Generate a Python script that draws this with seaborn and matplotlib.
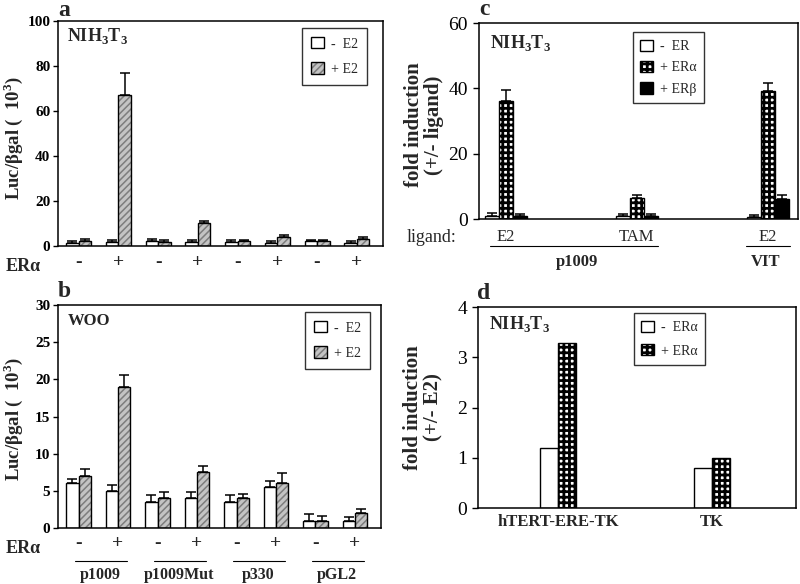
import numpy as np
import pandas as pd
import matplotlib
matplotlib.use("Agg")
import matplotlib.pyplot as plt
import seaborn as sns
from matplotlib.patches import Patch
from matplotlib.colors import to_rgba
import matplotlib.transforms as mtransforms

sns.set_theme(style="white")
plt.rcParams['font.family'] = ['Liberation Serif', 'DejaVu Serif']
plt.rcParams['mathtext.fontset'] = 'custom'
plt.rcParams['mathtext.rm'] = 'Liberation Serif'
plt.rcParams['mathtext.bf'] = 'Liberation Serif:bold'
plt.rcParams['hatch.linewidth'] = 1.1

# ---------------- data ----------------
# panel a (NIH3T3)
a_groups = ["g1", "g2", "g3", "g4", "g5", "g6", "g7", "g8"]
a_tick_labels = ["-", "+", "-", "+", "-", "+", "-", "+"]
a_minus = [1.3, 1.6, 2.1, 1.6, 1.9, 1.5, 2.0, 1.5]
a_minus_err = [1.0, 0.9, 0.8, 0.9, 0.8, 0.9, 0.8, 0.8]
a_plus = [2.0, 67.2, 1.8, 10.3, 2.0, 3.9, 2.0, 3.0]
a_plus_err = [0.9, 9.8, 0.8, 0.9, 0.8, 0.8, 0.6, 0.9]

# panel b (WOO)
b_groups = ["g1", "g2", "g3", "g4", "g5", "g6", "g7", "g8"]
b_tick_labels = ["-", "+", "-", "+", "-", "+", "-", "+"]
b_constructs = ["p1009", "p1009Mut", "p330", "pGL2"]
b_minus = [6.0, 5.0, 3.5, 4.0, 3.5, 5.5, 1.0, 1.0]
b_minus_err = [0.6, 0.8, 1.0, 0.8, 1.0, 0.8, 0.9, 0.5]
b_plus = [7.0, 19.0, 4.0, 7.5, 4.0, 6.0, 1.0, 2.0]
b_plus_err = [1.0, 1.6, 0.8, 0.9, 0.6, 1.4, 0.6, 0.5]

e2_levels = ["-  E2", "+ E2"]

# panel c
c_groups = ["p1009 E2", "p1009 TAM", "VIT E2"]
c_tick_labels = ["E2", "TAM", "E2"]
c_levels = ["-  ER", "+ ERα", "+ ERβ"]
c_none = [1.0, 1.0, 0.6]
c_none_err = [0.8, 0.5, 0.7]
c_alpha = [36.2, 6.4, 39.2]
c_alpha_err = [3.2, 0.8, 2.3]
c_beta = [1.0, 1.0, 6.1]
c_beta_err = [0.6, 0.6, 1.3]

# panel d
d_groups = ["hTERT-ERE-TK", "TK"]
d_levels = ["-  ERα", "+ ERα"]
d_minus = [1.2, 0.8]
d_plus = [3.28, 1.0]

HATCH_FACE = "#c4c4c4"
HATCH_LINE = "#7d7d7d"
DIAG = "/////"
CHECK = "+++"
CHECK_LW = 2.0


def set_hatch_style(p, color, lw=None):
    if hasattr(p, "set_hatchcolor"):
        p.set_hatchcolor(color)
    else:
        p._hatch_color = to_rgba(color)
    if lw is not None:
        if hasattr(p, "set_hatch_linewidth"):
            p.set_hatch_linewidth(lw)
        else:
            p._hatch_linewidth = lw


def long_df(groups, levels, series):
    rows = []
    for lev, vals in zip(levels, series):
        for g, v in zip(groups, vals):
            rows.append({"group": g, "cond": lev, "value": v})
    return pd.DataFrame(rows)


def add_errs(ax, container, errs):
    xs = [p.get_x() + p.get_width() / 2 for p in container.patches]
    ys = [p.get_height() for p in container.patches]
    ax.errorbar(xs, ys, yerr=[np.zeros(len(errs)), errs], fmt="none",
                ecolor="black", elinewidth=1.1, capsize=3.5, capthick=1.1, zorder=3)


def style_axes(ax, bold_ticks, tick_size):
    for s in ax.spines.values():
        s.set_visible(True)
        s.set_color("black")
        s.set_linewidth(1.1)
    ax.tick_params(axis="y", left=True, direction="out", length=3.5, width=1,
                   pad=2, labelsize=tick_size, colors="black")
    ax.tick_params(axis="x", bottom=False, length=0)
    for t in ax.get_yticklabels():
        t.set_fontweight("bold" if bold_ticks else "normal")
    ax.set_xlabel("")
    ax.grid(False)


def make_legend(ax, handles, labels, anchor, spacing, pad):
    leg = ax.legend(handles, labels, loc="upper right", bbox_to_anchor=anchor,
                    frameon=True, fancybox=False, edgecolor="black", fontsize=10,
                    handlelength=0.9, handleheight=0.9, handletextpad=0.5,
                    labelspacing=spacing, borderpad=pad, borderaxespad=0)
    leg.get_frame().set_linewidth(1)
    return leg


fig = plt.figure(figsize=(8, 5.84), dpi=100)

# ---------------- panel a ----------------
ax_a = fig.add_axes([0.0725, 0.5788, 0.40625, 0.3853])
dfa = long_df(a_groups, e2_levels, [a_minus, a_plus])
sns.barplot(data=dfa, x="group", y="value", hue="cond", order=a_groups,
            hue_order=e2_levels, palette=["white", HATCH_FACE], saturation=1,
            edgecolor="black", linewidth=1, width=0.63, errorbar=None,
            legend=False, ax=ax_a)
for p in ax_a.containers[1].patches:
    p.set_hatch(DIAG)
    set_hatch_style(p, HATCH_LINE)
add_errs(ax_a, ax_a.containers[0], a_minus_err)
add_errs(ax_a, ax_a.containers[1], a_plus_err)
ax_a.set_ylim(0, 100)
ax_a.set_yticks([0, 20, 40, 60, 80, 100])
ax_a.set_xlim(-0.52, 7.66)
ax_a.set_xticks(range(len(a_groups)))
ax_a.set_xticklabels(a_tick_labels, fontsize=14, fontweight="bold")
ax_a.tick_params(axis="x", pad=6)
style_axes(ax_a, True, 11)
ax_a.set_ylabel(r"Luc/βgal (  10$^\mathbf{3}$)", fontsize=13.5, fontweight="bold")
ax_a.yaxis.set_label_coords(-0.103, 0.48)
ax_a.text(-0.108, -0.093, "ERα", transform=ax_a.transAxes, ha="center",
          va="center", fontsize=13, fontweight="bold")
ax_a.text(0.028, 0.935, r"NIH$_\mathbf{3}$T$_\mathbf{3}$", transform=ax_a.transAxes,
          ha="left", va="center", fontsize=13, fontweight="bold")
h_e2 = [Patch(facecolor="white", edgecolor="black", linewidth=1),
        Patch(facecolor=HATCH_FACE, edgecolor="black", linewidth=1, hatch=DIAG)]
leg = make_legend(ax_a, h_e2, e2_levels, (0.951, 0.969), 0.85, 0.65)
set_hatch_style(leg.legend_handles[1], HATCH_LINE)

# ---------------- panel b ----------------
ax_b = fig.add_axes([0.0725, 0.0959, 0.4038, 0.3818])
dfb = long_df(b_groups, e2_levels, [b_minus, b_plus])
sns.barplot(data=dfb, x="group", y="value", hue="cond", order=b_groups,
            hue_order=e2_levels, palette=["white", HATCH_FACE], saturation=1,
            edgecolor="black", linewidth=1, width=0.62, errorbar=None,
            legend=False, ax=ax_b)
for p in ax_b.containers[1].patches:
    p.set_hatch(DIAG)
    set_hatch_style(p, HATCH_LINE)
add_errs(ax_b, ax_b.containers[0], b_minus_err)
add_errs(ax_b, ax_b.containers[1], b_plus_err)
ax_b.set_ylim(0, 30)
ax_b.set_yticks([0, 5, 10, 15, 20, 25, 30])
ax_b.set_xlim(-0.52, 7.66)
ax_b.set_xticks(range(len(b_groups)))
ax_b.set_xticklabels(b_tick_labels, fontsize=14, fontweight="bold")
ax_b.tick_params(axis="x", pad=5)
style_axes(ax_b, True, 11)
ax_b.set_ylabel(r"Luc/βgal (  10$^\mathbf{3}$)", fontsize=13.5, fontweight="bold")
ax_b.yaxis.set_label_coords(-0.103, 0.49)
ax_b.text(-0.108, -0.092, "ERα", transform=ax_b.transAxes, ha="center",
          va="center", fontsize=13, fontweight="bold")
ax_b.text(0.03, 0.93, "WOO", transform=ax_b.transAxes,
          ha="left", va="center", fontsize=12, fontweight="bold")
trb = mtransforms.blended_transform_factory(ax_b.transData, ax_b.transAxes)
for k, name in enumerate(b_constructs):
    x0 = 2 * k
    ax_b.plot([x0 - 0.1, x0 + 1.22], [-0.148, -0.148], color="black", lw=0.8,
              transform=trb, clip_on=False)
    ax_b.text(x0 + 0.55, -0.212, name, transform=trb, ha="center", va="center",
              fontsize=11.5, fontweight="bold")
leg = make_legend(ax_b, h_e2, e2_levels, (0.966, 0.969), 0.85, 0.65)
set_hatch_style(leg.legend_handles[1], HATCH_LINE)

# ---------------- panel c ----------------
ax_c = fig.add_axes([0.59875, 0.625, 0.39875, 0.3356])
dfc = long_df(c_groups, c_levels, [c_none, c_alpha, c_beta])
sns.barplot(data=dfc, x="group", y="value", hue="cond", order=c_groups,
            hue_order=c_levels, palette=["white", "white", "black"], saturation=1,
            edgecolor="black", linewidth=1, width=0.32, errorbar=None,
            legend=False, ax=ax_c)
for p in ax_c.containers[1].patches:
    p.set_hatch(CHECK)
    set_hatch_style(p, "black", CHECK_LW)
add_errs(ax_c, ax_c.containers[0], c_none_err)
add_errs(ax_c, ax_c.containers[1], c_alpha_err)
add_errs(ax_c, ax_c.containers[2], c_beta_err)
ax_c.set_ylim(0, 60)
ax_c.set_yticks([0, 20, 40, 60])
ax_c.set_xlim(-0.206, 2.23)
ax_c.set_xticks(range(len(c_groups)))
ax_c.set_xticklabels(c_tick_labels, fontsize=12)
ax_c.tick_params(axis="x", pad=7)
style_axes(ax_c, False, 14)
ax_c.tick_params(axis="y", pad=4, length=4)
ax_c.set_ylabel("fold induction\n(+/- ligand)", fontsize=15, fontweight="bold",
                linespacing=1.0)
ax_c.yaxis.set_label_coords(-0.11, 0.48)
ax_c.text(-0.148, -0.092, "ligand:", transform=ax_c.transAxes, ha="center",
          va="center", fontsize=13)
ax_c.text(0.035, 0.9, r"NIH$_\mathbf{3}$T$_\mathbf{3}$", transform=ax_c.transAxes,
          ha="left", va="center", fontsize=13, fontweight="bold")
trc = mtransforms.blended_transform_factory(ax_c.transData, ax_c.transAxes)
ax_c.plot([-0.12, 1.16], [-0.138, -0.138], color="black", lw=0.8,
          transform=trc, clip_on=False)
ax_c.plot([1.83, 2.17], [-0.138, -0.138], color="black", lw=0.8,
          transform=trc, clip_on=False)
ax_c.text(0.54, -0.219, "p1009", transform=trc, ha="center", va="center",
          fontsize=12, fontweight="bold")
ax_c.text(1.98, -0.219, "VIT", transform=trc, ha="center", va="center",
          fontsize=12, fontweight="bold")
h_c = [Patch(facecolor="white", edgecolor="black", linewidth=1),
       Patch(facecolor="white", edgecolor="black", linewidth=1, hatch=CHECK),
       Patch(facecolor="black", edgecolor="black", linewidth=1)]
leg = make_legend(ax_c, h_c, c_levels, (0.705, 0.954), 0.55, 0.55)
set_hatch_style(leg.legend_handles[1], "black", CHECK_LW)

# ---------------- panel d ----------------
ax_d = fig.add_axes([0.5975, 0.1301, 0.3975, 0.3442])
dfd = long_df(d_groups, d_levels, [d_minus, d_plus])
sns.barplot(data=dfd, x="group", y="value", hue="cond", order=d_groups,
            hue_order=d_levels, palette=["white", "white"], saturation=1,
            edgecolor="black", linewidth=1, width=0.235, errorbar=None,
            legend=False, ax=ax_d)
for p in ax_d.containers[1].patches:
    p.set_hatch(CHECK)
    set_hatch_style(p, "black", CHECK_LW)
ax_d.set_ylim(0, 4)
ax_d.set_yticks([0, 1, 2, 3, 4])
ax_d.set_xlim(-0.52, 1.545)
ax_d.set_xticks(range(len(d_groups)))
ax_d.set_xticklabels(d_groups, fontsize=12, fontweight="bold")
ax_d.tick_params(axis="x", pad=4)
style_axes(ax_d, False, 14)
ax_d.tick_params(axis="y", pad=4, length=4)
ax_d.set_ylabel("fold induction\n(+/- E2)", fontsize=15, fontweight="bold",
                linespacing=1.0)
ax_d.yaxis.set_label_coords(-0.11, 0.5)
ax_d.text(0.035, 0.915, r"NIH$_\mathbf{3}$T$_\mathbf{3}$", transform=ax_d.transAxes,
          ha="left", va="center", fontsize=13, fontweight="bold")
h_d = [Patch(facecolor="white", edgecolor="black", linewidth=1),
       Patch(facecolor="white", edgecolor="black", linewidth=1, hatch=CHECK)]
leg = make_legend(ax_d, h_d, d_levels, (0.714, 0.97), 0.7, 0.55)
set_hatch_style(leg.legend_handles[1], "black", CHECK_LW)

# panel letters (baseline positions in pixels)
for lab, (px, py) in {"a": (64, 16), "b": (64, 297), "c": (484, 15), "d": (484, 299)}.items():
    fig.text(px / 800, 1 - py / 584, lab, ha="center", va="baseline",
             fontsize=17, fontweight="bold")

fig.savefig("out.png", dpi=100)
